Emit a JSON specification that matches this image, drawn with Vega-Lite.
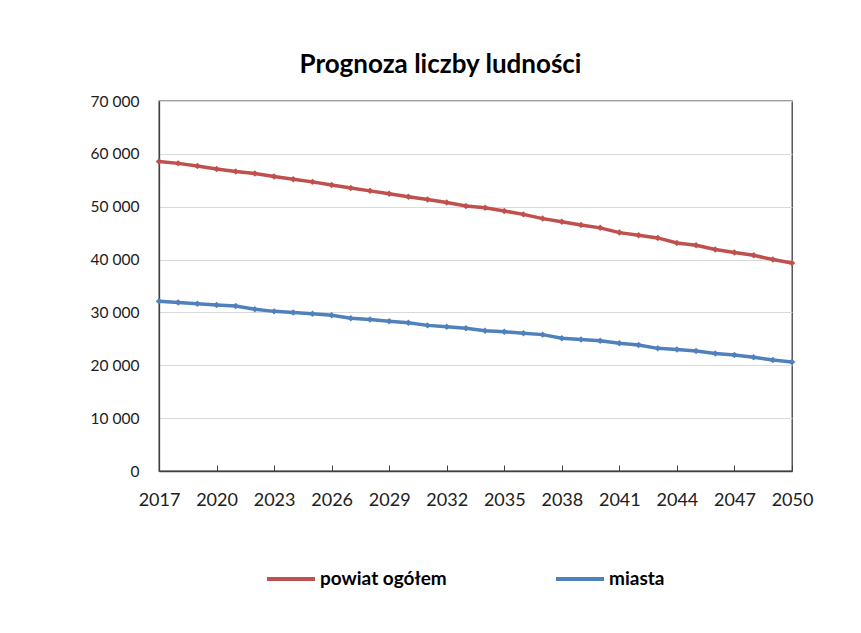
{
  "$schema": "https://vega.github.io/schema/vega-lite/v6.json",
  "autosize": {"type": "none"},
  "padding": {"left": 159, "top": 101, "right": 69, "bottom": 162},
  "width": 633,
  "height": 370,
  "background": "white",
  "title": {
    "text": "Prognoza liczby ludności",
    "font": "Lato",
    "fontSize": 26,
    "fontWeight": "bold",
    "color": "#000000",
    "anchor": "middle",
    "dx": -35,
    "offset": 16
  },
  "config": {
    "view": {"stroke": "#404040", "strokeWidth": 1.3},
    "axis": {"labelFont": "Lato", "labelColor": "#202020", "gridColor": "#d9d9d9", "domainColor": "#404040", "tickColor": "#404040"}
  },
  "data": {
    "values": [
      {"year": 2017, "series": "powiat ogółem", "value": 58550},
      {"year": 2018, "series": "powiat ogółem", "value": 58200},
      {"year": 2019, "series": "powiat ogółem", "value": 57700},
      {"year": 2020, "series": "powiat ogółem", "value": 57150},
      {"year": 2021, "series": "powiat ogółem", "value": 56650},
      {"year": 2022, "series": "powiat ogółem", "value": 56300},
      {"year": 2023, "series": "powiat ogółem", "value": 55700},
      {"year": 2024, "series": "powiat ogółem", "value": 55200},
      {"year": 2025, "series": "powiat ogółem", "value": 54700},
      {"year": 2026, "series": "powiat ogółem", "value": 54100},
      {"year": 2027, "series": "powiat ogółem", "value": 53550},
      {"year": 2028, "series": "powiat ogółem", "value": 53000},
      {"year": 2029, "series": "powiat ogółem", "value": 52450},
      {"year": 2030, "series": "powiat ogółem", "value": 51900},
      {"year": 2031, "series": "powiat ogółem", "value": 51350},
      {"year": 2032, "series": "powiat ogółem", "value": 50800},
      {"year": 2033, "series": "powiat ogółem", "value": 50150},
      {"year": 2034, "series": "powiat ogółem", "value": 49800},
      {"year": 2035, "series": "powiat ogółem", "value": 49200},
      {"year": 2036, "series": "powiat ogółem", "value": 48550},
      {"year": 2037, "series": "powiat ogółem", "value": 47750},
      {"year": 2038, "series": "powiat ogółem", "value": 47150},
      {"year": 2039, "series": "powiat ogółem", "value": 46550},
      {"year": 2040, "series": "powiat ogółem", "value": 46000},
      {"year": 2041, "series": "powiat ogółem", "value": 45100},
      {"year": 2042, "series": "powiat ogółem", "value": 44600},
      {"year": 2043, "series": "powiat ogółem", "value": 44100},
      {"year": 2044, "series": "powiat ogółem", "value": 43150},
      {"year": 2045, "series": "powiat ogółem", "value": 42700},
      {"year": 2046, "series": "powiat ogółem", "value": 41900},
      {"year": 2047, "series": "powiat ogółem", "value": 41350},
      {"year": 2048, "series": "powiat ogółem", "value": 40800},
      {"year": 2049, "series": "powiat ogółem", "value": 40000},
      {"year": 2050, "series": "powiat ogółem", "value": 39350},
      {"year": 2017, "series": "miasta", "value": 32100},
      {"year": 2018, "series": "miasta", "value": 31900},
      {"year": 2019, "series": "miasta", "value": 31650},
      {"year": 2020, "series": "miasta", "value": 31400},
      {"year": 2021, "series": "miasta", "value": 31200},
      {"year": 2022, "series": "miasta", "value": 30600},
      {"year": 2023, "series": "miasta", "value": 30200},
      {"year": 2024, "series": "miasta", "value": 30000},
      {"year": 2025, "series": "miasta", "value": 29750},
      {"year": 2026, "series": "miasta", "value": 29450},
      {"year": 2027, "series": "miasta", "value": 28900},
      {"year": 2028, "series": "miasta", "value": 28650},
      {"year": 2029, "series": "miasta", "value": 28350},
      {"year": 2030, "series": "miasta", "value": 28050},
      {"year": 2031, "series": "miasta", "value": 27550},
      {"year": 2032, "series": "miasta", "value": 27300},
      {"year": 2033, "series": "miasta", "value": 27000},
      {"year": 2034, "series": "miasta", "value": 26550},
      {"year": 2035, "series": "miasta", "value": 26350},
      {"year": 2036, "series": "miasta", "value": 26050},
      {"year": 2037, "series": "miasta", "value": 25800},
      {"year": 2038, "series": "miasta", "value": 25100},
      {"year": 2039, "series": "miasta", "value": 24900},
      {"year": 2040, "series": "miasta", "value": 24650},
      {"year": 2041, "series": "miasta", "value": 24150},
      {"year": 2042, "series": "miasta", "value": 23850},
      {"year": 2043, "series": "miasta", "value": 23200},
      {"year": 2044, "series": "miasta", "value": 23000},
      {"year": 2045, "series": "miasta", "value": 22700},
      {"year": 2046, "series": "miasta", "value": 22250},
      {"year": 2047, "series": "miasta", "value": 21950},
      {"year": 2048, "series": "miasta", "value": 21500},
      {"year": 2049, "series": "miasta", "value": 21000},
      {"year": 2050, "series": "miasta", "value": 20600}
    ]
  },
  "encoding": {
    "x": {
      "field": "year",
      "type": "quantitative",
      "scale": {"domain": [2017, 2050], "nice": false, "zero": false},
      "axis": {
        "title": null,
        "values": [2017, 2020, 2023, 2026, 2029, 2032, 2035, 2038, 2041, 2044, 2047, 2050],
        "format": "d",
        "grid": false,
        "tickSize": -6,
        "labelPadding": 26,
        "labelFontSize": 18,
        "labelOverlap": false,
        "labelFlush": false,
        "domainWidth": 1.3
      }
    },
    "y": {
      "field": "value",
      "type": "quantitative",
      "scale": {"domain": [0, 70000], "nice": false},
      "axis": {
        "title": null,
        "values": [0, 10000, 20000, 30000, 40000, 50000, 60000, 70000],
        "labelExpr": "replace(format(datum.value, ','), ',', ' ')",
        "ticks": false,
        "labelPadding": 20,
        "labelFontSize": 15.5,
        "domainWidth": 1.3
      }
    },
    "color": {
      "field": "series",
      "type": "nominal",
      "sort": ["powiat ogółem", "miasta"],
      "scale": {"domain": ["powiat ogółem", "miasta"], "range": ["#C0504D", "#4F81BD"]},
      "legend": {
        "title": null,
        "orient": "none",
        "legendX": 106,
        "legendY": 452,
        "direction": "horizontal",
        "symbolType": "stroke",
        "symbolSize": 2300,
        "symbolStrokeWidth": 4,
        "labelFont": "Lato",
        "labelFontSize": 19,
        "labelFontWeight": "bold",
        "labelColor": "#000000",
        "labelOffset": 3,
        "columnPadding": 101
      }
    }
  },
  "layer": [
    {"mark": {"type": "line", "strokeWidth": 3.5}},
    {"mark": {"type": "point", "shape": "diamond", "filled": true, "size": 42, "opacity": 1}, "encoding": {"color": {"field": "series", "type": "nominal", "legend": null}}}
  ]
}
